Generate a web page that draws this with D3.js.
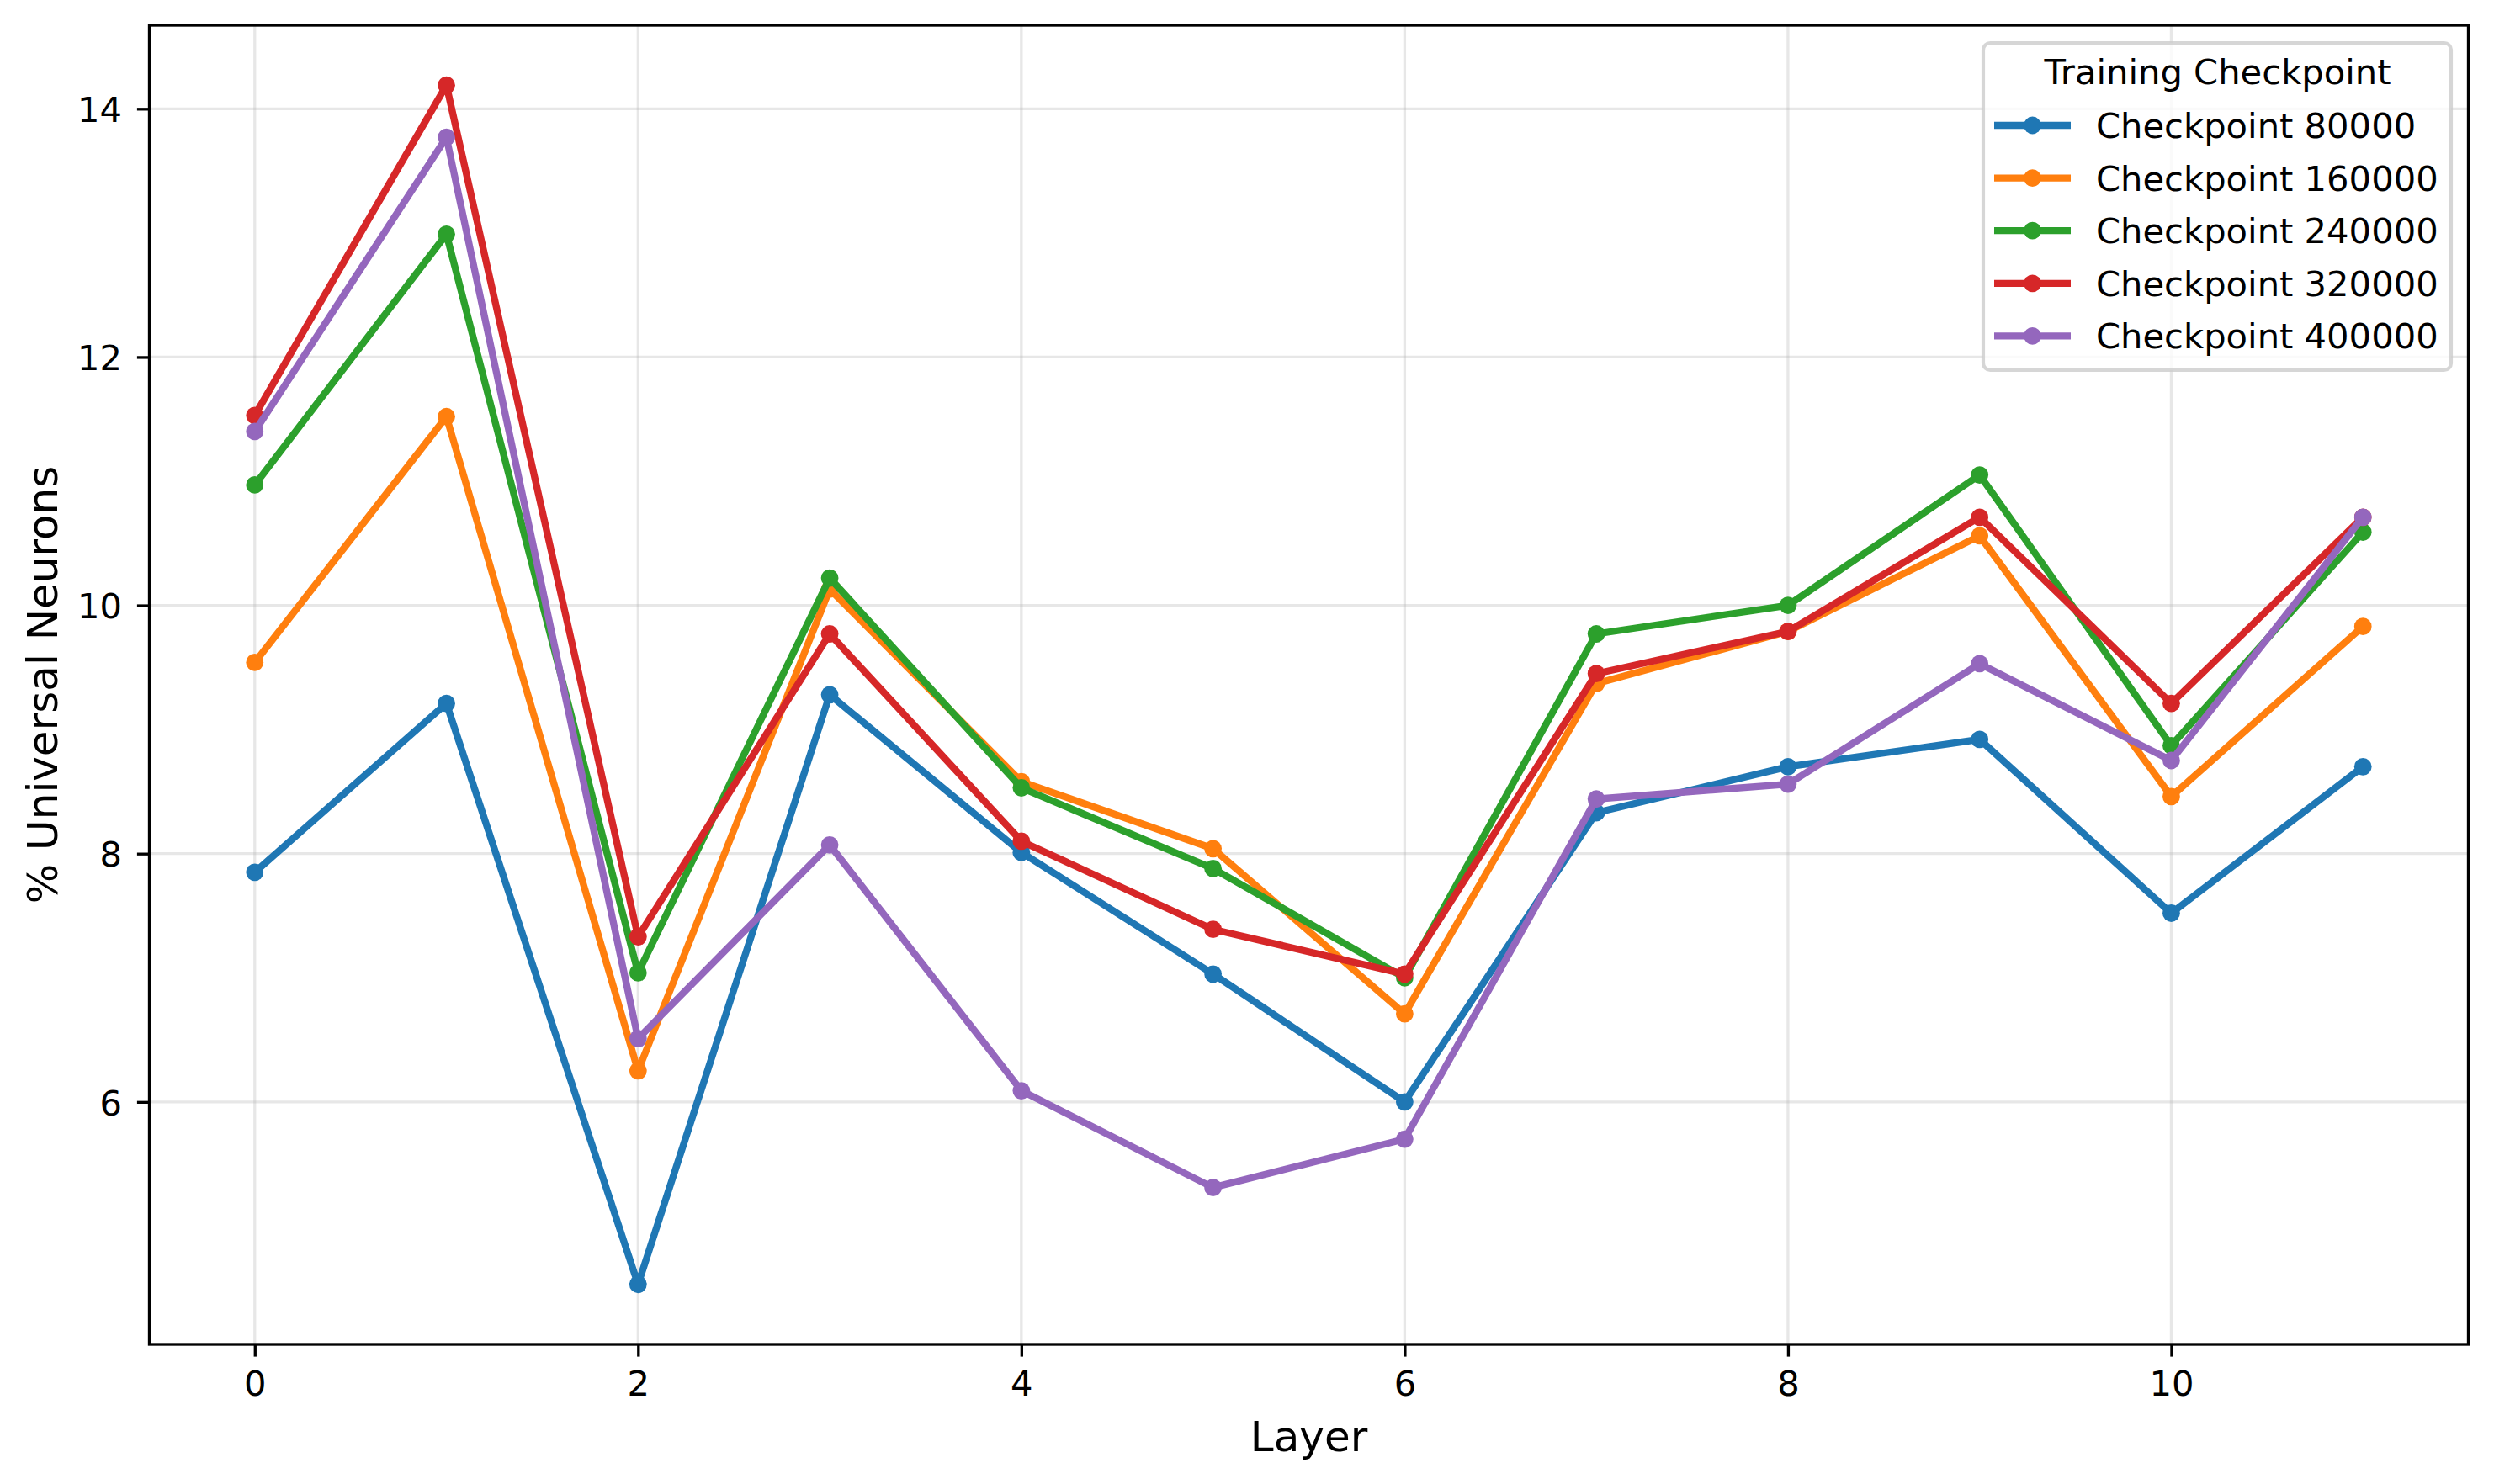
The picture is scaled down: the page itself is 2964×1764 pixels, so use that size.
<!DOCTYPE html>
<html>
<head>
<meta charset="utf-8">
<script src="https://cdn.jsdelivr.net/npm/d3@7"></script>
<style>
  html, body { margin: 0; padding: 0; background: #ffffff; }
  svg { display: block; font-family: "DejaVu Sans", sans-serif; }
</style>
</head>
<body>
<svg id="chart" width="2964" height="1764"></svg>
<script>
// ---- Data ----
const layers = [0, 1, 2, 3, 4, 5, 6, 7, 8, 9, 10, 11];
const checkpointNames = ["Checkpoint 80000", "Checkpoint 160000", "Checkpoint 240000", "Checkpoint 320000", "Checkpoint 400000"];
const checkpoint80000  = [7.85, 9.21, 4.53, 9.28, 8.01, 7.03, 6.00, 8.33, 8.70, 8.92, 7.52, 8.70];
const checkpoint160000 = [9.54, 11.52, 6.25, 10.13, 8.58, 8.04, 6.71, 9.37, 9.79, 10.56, 8.46, 9.83];
const checkpoint240000 = [10.97, 12.99, 7.04, 10.22, 8.53, 7.88, 7.00, 9.77, 10.00, 11.05, 8.87, 10.59];
const checkpoint320000 = [11.53, 14.19, 7.33, 9.77, 8.10, 7.39, 7.03, 9.45, 9.79, 10.71, 9.21, 10.71];
const checkpoint400000 = [11.40, 13.77, 6.51, 8.07, 6.09, 5.31, 5.70, 8.44, 8.56, 9.53, 8.75, 10.71];
const xTicks = [0, 2, 4, 6, 8, 10];
const yTicks = [6, 8, 10, 12, 14];
const xLabel = "Layer";
const yLabel = "% Universal Neurons";
const legendTitle = "Training Checkpoint";

const seriesValues = [checkpoint80000, checkpoint160000, checkpoint240000, checkpoint320000, checkpoint400000];
const colors = ["#1f77b4", "#ff7f0e", "#2ca02c", "#d62728", "#9467bd"];
const series = checkpointNames.map((name, i) => ({
  name, color: colors[i],
  points: layers.map((l, j) => ({ x: l, y: seriesValues[i][j] }))
}));

// ---- Layout ----
const plot = { left: 177.5, right: 2933.5, top: 30, bottom: 1598 };
const svg = d3.select("#chart");

const allVals = seriesValues.flat();
const yMin = d3.min(allVals), yMax = d3.max(allVals);
const yPad = (yMax - yMin) * 0.05;
const xMin = d3.min(layers), xMax = d3.max(layers);
const xPad = (xMax - xMin) * 0.05;

const x = d3.scaleLinear().domain([xMin - xPad, xMax + xPad]).range([plot.left, plot.right]);
const y = d3.scaleLinear().domain([yMin - yPad, yMax + yPad]).range([plot.bottom, plot.top]);

const fontTick = 41.67, fontLabel = 50;
const lw = 8.33, markerR = 10.4, spineW = 3.33, tickLen = 14.6;

// grid
const grid = svg.append("g");
grid.selectAll("line.gx").data(xTicks).join("line")
  .attr("x1", d => x(d)).attr("x2", d => x(d))
  .attr("y1", plot.top).attr("y2", plot.bottom)
  .attr("stroke", "#b0b0b0").attr("stroke-opacity", 0.3).attr("stroke-width", 3.33);
grid.selectAll("line.gy").data(yTicks).join("line")
  .attr("y1", d => y(d)).attr("y2", d => y(d))
  .attr("x1", plot.left).attr("x2", plot.right)
  .attr("stroke", "#b0b0b0").attr("stroke-opacity", 0.3).attr("stroke-width", 3.33);

// series
const lineGen = d3.line().x(d => x(d.x)).y(d => y(d.y));
const sg = svg.append("g");
series.forEach(s => {
  const g = sg.append("g");
  g.append("path").datum(s.points).attr("d", lineGen)
    .attr("fill", "none").attr("stroke", s.color).attr("stroke-width", lw)
    .attr("stroke-linejoin", "round").attr("stroke-linecap", "butt");
  g.selectAll("circle").data(s.points).join("circle")
    .attr("cx", d => x(d.x)).attr("cy", d => y(d.y)).attr("r", markerR)
    .attr("fill", s.color);
});

// axes using d3 axis generators
const xAxis = d3.axisBottom(x).tickValues(xTicks).tickFormat(d3.format("d"))
  .tickSize(tickLen).tickPadding(14.6);
const yAxis = d3.axisLeft(y).tickValues(yTicks).tickFormat(d3.format("d"))
  .tickSize(tickLen).tickPadding(14.6);

const gx = svg.append("g").attr("transform", `translate(0,${plot.bottom})`).call(xAxis);
gx.select(".domain").remove();
gx.selectAll(".tick line").attr("stroke", "#000").attr("stroke-width", spineW);
gx.selectAll(".tick text").attr("font-size", fontTick).attr("fill", "#000")
  .attr("font-family", "DejaVu Sans").attr("dy", null).attr("y", 61);

const gy = svg.append("g").attr("transform", `translate(${plot.left},0)`).call(yAxis);
gy.select(".domain").remove();
gy.selectAll(".tick line").attr("stroke", "#000").attr("stroke-width", spineW);
gy.selectAll(".tick text").attr("font-size", fontTick).attr("fill", "#000")
  .attr("font-family", "DejaVu Sans").attr("dy", null).attr("y", 15.3).attr("x", -32.5);

// spines
svg.append("rect")
  .attr("x", plot.left).attr("y", plot.top)
  .attr("width", plot.right - plot.left).attr("height", plot.bottom - plot.top)
  .attr("fill", "none").attr("stroke", "#000").attr("stroke-width", spineW);

// axis labels
svg.append("text").attr("x", (plot.left + plot.right) / 2).attr("y", 1725)
  .attr("text-anchor", "middle").attr("font-size", fontLabel).attr("fill", "#000")
  .text(xLabel);
svg.append("text")
  .attr("transform", `translate(68,${(plot.top + plot.bottom) / 2}) rotate(-90)`)
  .attr("text-anchor", "middle").attr("font-size", fontLabel).attr("fill", "#000")
  .text(yLabel);

// legend
const lg = svg.append("g");
lg.append("rect").attr("x", 2357).attr("y", 51).attr("width", 556).attr("height", 389)
  .attr("rx", 8.3).attr("ry", 8.3)
  .attr("fill", "#ffffff").attr("fill-opacity", 0.8)
  .attr("stroke", "#cccccc").attr("stroke-opacity", 0.8).attr("stroke-width", 4.17);
lg.append("text").attr("x", 2635.5).attr("y", 100).attr("text-anchor", "middle")
  .attr("font-size", fontTick).attr("fill", "#000").text(legendTitle);
const entryY0 = 149, entryStep = 62.6;
series.forEach((s, i) => {
  const cy = entryY0 + i * entryStep;
  lg.append("line").attr("x1", 2370).attr("x2", 2461).attr("y1", cy).attr("y2", cy)
    .attr("stroke", s.color).attr("stroke-width", lw);
  lg.append("circle").attr("cx", 2415.5).attr("cy", cy).attr("r", markerR).attr("fill", s.color);
  lg.append("text").attr("x", 2491).attr("y", cy + 15).attr("font-size", fontTick)
    .attr("fill", "#000").text(s.name);
});
</script>
</body>
</html>
